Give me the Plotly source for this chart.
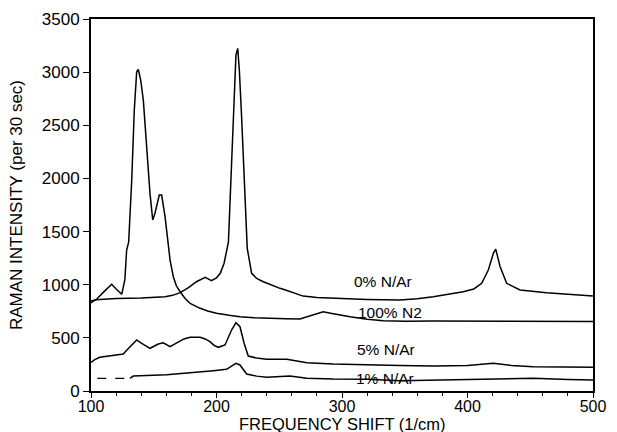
import plotly.graph_objects as go

# 0% N/Ar
zero_x = [100, 107, 120, 140, 159, 165, 171, 178, 184, 188, 191, 196, 200, 203, 206, 209.5, 213.4, 215.5, 216.9,
          218.2, 220, 222.7, 224.5, 228, 232, 237.3, 244, 250.6, 255, 261.2, 265, 269, 280, 293, 320, 346, 360,
          372.7, 385, 396.6, 405, 411.3, 416.6, 420.6, 422.5, 426, 431.2, 441.8, 463, 484.3, 500]
zero_y = [850, 862, 870, 875, 887, 900, 925, 975, 1028, 1055, 1070, 1038, 1065, 1107, 1200, 1400, 2580, 3161, 3224,
          3020, 2580, 1862, 1342, 1107, 1060, 1028, 995, 966, 950, 925, 905, 893, 880, 872, 862, 856, 868,
          887, 910, 934, 960, 1013, 1138, 1295, 1335, 1169, 1013, 950, 925, 903, 893]

# 100% N2
n2_x = [100, 105, 110, 116.5, 120, 124.5, 127, 128.4, 130, 132.4, 134.5, 136.4, 137.7, 139.6, 141.7, 144.4, 147,
        149.2, 151, 154.4, 156.3, 159, 161.6, 163, 165.6, 168, 171, 175, 179, 183, 187, 193, 200, 210, 218.7,
        230, 240, 255, 266.5, 273, 279.8, 285, 292, 298.4, 306.4, 320, 333, 350, 372.7, 500]
n2_y = [830, 870, 930, 1004, 960, 910, 1050, 1326, 1400, 1969, 2643, 3004, 3025, 2926, 2737, 2267, 1859,
        1609, 1672, 1844, 1844, 1640, 1342, 1232, 1075, 990, 934, 870, 824, 797, 778, 752, 731, 712, 699,
        690, 684, 680, 677, 700, 731, 746, 730, 715, 699, 675, 661, 657, 658, 655]

# 5% N/Ar
five_x = [100, 103, 107, 115, 125.7, 129, 132.4, 136.4, 140.4, 147, 153.6, 157.6, 163, 169.6, 174, 179, 187, 191,
          194.8, 198, 201.4, 206.8, 209, 212, 215.5, 218.7, 222, 225.3, 232, 240, 256, 272, 293, 319.7, 346,
          372.7, 400, 420.6, 435, 452.4, 500]
five_y = [270, 295, 317, 330, 348, 390, 433, 480, 449, 402, 442, 454, 417, 464, 490, 505, 505, 490,
          464, 430, 411, 433, 490, 574, 643, 605, 449, 329, 310, 298, 298, 266, 254, 245, 240,
          235, 240, 260, 240, 229, 223]

# 1% N/Ar (first part drawn dashed)
one_x = [105, 131, 133.7, 160.3, 181.5, 197.5, 208, 212, 215.5, 218.7, 224, 232, 240, 258.6, 272, 293, 320, 346,
         372.7, 399.4, 452.4, 480, 500]
one_y = [119, 119, 141, 154, 172, 191, 204, 230, 260, 245, 160, 140, 129, 141, 120, 112, 110, 97,
         102, 110, 119, 108, 104]
one_dash_end = 131

labels = ["0% N/Ar", "100% N2", "5% N/Ar", "1% N/Ar"]
label_x = [333, 338, 335, 334]
label_y = [1028, 740, 386, 119]

x_ticks = [100, 200, 300, 400, 500]
x_minor = list(range(120, 500, 20))
y_ticks = [0, 500, 1000, 1500, 2000, 2500, 3000, 3500]
x_title = "FREQUENCY SHIFT (1/cm)"
y_title = "RAMAN INTENSITY (per 30 sec)"

FONT = "Liberation Sans, Arial, sans-serif"
line = dict(color="black", width=1.5)

fig = go.Figure()
fig.add_trace(go.Scatter(x=zero_x, y=zero_y, mode="lines", line=line))
fig.add_trace(go.Scatter(x=n2_x, y=n2_y, mode="lines", line=line))
fig.add_trace(go.Scatter(x=five_x, y=five_y, mode="lines", line=line))
dx = [x for x in one_x if x <= one_dash_end]
dy = one_y[:len(dx)]
fig.add_trace(go.Scatter(x=dx, y=dy, mode="lines", xaxis="x2",
                         line=dict(color="black", width=1.3, dash="dash")))
fig.add_trace(go.Scatter(x=one_x[len(dx) - 1:], y=one_y[len(dx) - 1:], mode="lines", line=line))

for t, x, y in zip(labels, label_x, label_y):
    fig.add_annotation(x=x, y=y, text=t, showarrow=False, font=dict(family=FONT, size=15.5, color="black"))

# x-axis title placed just under the tick labels
fig.add_annotation(xref="paper", yref="paper", x=0.5, y=0, yanchor="middle", yshift=-33,
                   text=x_title, showarrow=False, font=dict(family=FONT, size=16.5, color="black"))

fig.update_layout(
    width=617, height=432,
    margin=dict(l=91, r=24, t=19, b=41),
    paper_bgcolor="white", plot_bgcolor="white",
    showlegend=False,
    font=dict(family=FONT, size=17, color="black"),
    xaxis=dict(
        range=[100, 500], tickvals=x_ticks, automargin=False,
        showline=True, linecolor="black", linewidth=2, mirror=True,
        ticks="", showgrid=False, zeroline=False, tickfont=dict(size=16),
    ),
    xaxis2=dict(
        range=[100, 500], tickvals=x_ticks, overlaying="x", side="bottom", anchor="y",
        automargin=False, showticklabels=False,
        ticks="outside", ticklen=6, tickwidth=1.3, tickcolor="black",
        minor=dict(tickvals=x_minor, ticks="outside", ticklen=4, tickcolor="black", tickwidth=1.2),
        showgrid=False, zeroline=False, showline=False,
    ),
    yaxis=dict(
        range=[0, 3500], tickvals=y_ticks, automargin=False,
        showline=True, linecolor="black", linewidth=2, mirror=True,
        ticks="outside", ticklen=6, tickwidth=1.3, tickcolor="black",
        showgrid=False, zeroline=False, tickfont=dict(size=17),
        title=dict(text=y_title, font=dict(size=17)),
    ),
)

fig.write_html("out.html")
